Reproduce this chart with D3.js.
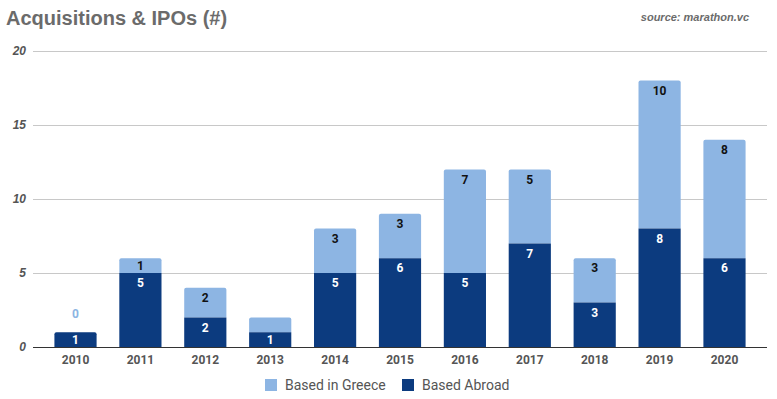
<!DOCTYPE html>
<html>
<head>
<meta charset="utf-8">
<script src="https://cdn.jsdelivr.net/npm/d3@7"></script>
<style>
body { margin: 0; background: #fff; }
svg { display: block; }
</style>
</head>
<body>
<svg id="chart" width="777" height="399"></svg>
<script>
// values
var years = ["2010","2011","2012","2013","2014","2015","2016","2017","2018","2019","2020"];
var basedAbroad = [1,5,2,1,5,6,5,7,3,8,6];
var basedGreece = [0,1,2,1,3,3,7,5,3,10,8];
var yTicks = [0,5,10,15,20];
var seriesNames = ["Based in Greece","Based Abroad"];
// the sheet didn't print this one (segment too thin)
var hiddenGreeceLabels = ["2013"];

var lightBlue = "#8db5e3", darkBlue = "#0c3b7f";

var svg = d3.select("#chart");

var x = d3.scaleBand()
	.domain(years)
	.range([33, 767])
	.paddingInner(0.35)
	.paddingOuter(0.33);

var y = d3.scaleLinear()
	.domain([0, 20])
	.range([347, 51]);

// title + source
svg.append("text")
	.attr("x", 6).attr("y", 25)
	.attr("font-family", "Liberation Sans, Arial, sans-serif")
	.attr("font-weight", "bold")
	.attr("font-size", "20px")
	.attr("fill", "#6b6b6b")
	.text("Acquisitions & IPOs (#)");

svg.append("text")
	.attr("x", 749).attr("y", 21)
	.attr("text-anchor", "end")
	.attr("font-family", "Liberation Sans, Arial, sans-serif")
	.attr("font-weight", "bold")
	.attr("font-style", "italic")
	.attr("font-size", "11px")
	.attr("fill", "#6b6b6b")
	.text("source: marathon.vc");

// gridlines
svg.append("g")
	.selectAll("line")
	.data(yTicks.filter(function(d) {return d > 0;}))
	.enter().append("line")
	.attr("x1", 33).attr("x2", 767)
	.attr("y1", function(d) {return y(d) + 0.5;})
	.attr("y2", function(d) {return y(d) + 0.5;})
	.attr("stroke", "#c8c8c8")
	.attr("stroke-width", 1);

// y axis labels
var yax = svg.append("g")
	.attr("transform", "translate(26,0)")
	.call(d3.axisLeft(y).tickValues(yTicks).tickSize(0).tickPadding(0));
yax.select(".domain").remove();
yax.selectAll("text")
	.attr("font-family", "Liberation Sans, Arial, sans-serif")
	.attr("font-weight", "bold")
	.attr("font-style", "italic")
	.attr("font-size", "12px")
	.attr("fill", "#555");

// stacked bars: abroad at the bottom, greece on top
function roundedTop(x0, y0, w, h, r) {
	if (h <= 0) return "";
	r = Math.min(r, h);
	return "M" + x0 + "," + (y0 + h) +
		"V" + (y0 + r) + "Q" + x0 + "," + y0 + " " + (x0 + r) + "," + y0 +
		"H" + (x0 + w - r) + "Q" + (x0 + w) + "," + y0 + " " + (x0 + w) + "," + (y0 + r) +
		"V" + (y0 + h) + "Z";
}

var bars = svg.append("g");
years.forEach(function(yr, i) {
	var a = basedAbroad[i], g = basedGreece[i];
	var bx = x(yr), bw = x.bandwidth();
	bars.append("path")
		.attr("d", roundedTop(bx, y(a + g), bw, y(a) - y(a + g), 2))
		.attr("fill", lightBlue);
	bars.append("path")
		.attr("d", roundedTop(bx, y(a), bw, y(0) - y(a), g > 0 ? 0 : 2))
		.attr("fill", darkBlue);
});

// value labels
var labels = svg.append("g")
	.attr("font-family", "Roboto, Arial, sans-serif")
	.attr("font-weight", "bold")
	.attr("font-size", "12px")
	.attr("text-anchor", "middle");

years.forEach(function(yr, i) {
	var a = basedAbroad[i], g = basedGreece[i];
	var cx = x(yr) + x.bandwidth() / 2;
	var hA = y(0) - y(a);
	labels.append("text")
		.attr("x", cx)
		.attr("y", y(a) + Math.min(10, hA / 2))
		.attr("dy", "0.35em")
		.attr("fill", "#fff")
		.text(a);
	if (hiddenGreeceLabels.indexOf(yr) >= 0) return;
	var gy;
	if (g > 0) {
		var hG = y(a) - y(a + g);
		gy = y(a + g) + Math.min(10, hG / 2);
	}
	else {
		gy = y(a) - 18;
	}
	labels.append("text")
		.attr("x", cx)
		.attr("y", gy)
		.attr("dy", "0.35em")
		.attr("fill", g > 0 ? "#111" : lightBlue)
		.text(g);
});

// baseline
svg.append("line")
	.attr("x1", 33).attr("x2", 767)
	.attr("y1", y(0) + 0.5).attr("y2", y(0) + 0.5)
	.attr("stroke", "#333")
	.attr("stroke-width", 1);

// x axis labels
var xax = svg.append("g")
	.attr("transform", "translate(0," + (y(0) + 6) + ")")
	.call(d3.axisBottom(x).tickSize(0).tickPadding(0));
xax.select(".domain").remove();
xax.selectAll("text")
	.attr("dy", "0.95em")
	.attr("font-family", "Roboto, Arial, sans-serif")
	.attr("font-weight", "bold")
	.attr("font-size", "12px")
	.attr("fill", "#555");

// legend
var legend = svg.append("g").attr("transform", "translate(265,385)");
var legendColors = [lightBlue, darkBlue];
var legendX = [0, 137];
seriesNames.forEach(function(name, i) {
	var lg = legend.append("g").attr("transform", "translate(" + legendX[i] + ",0)");
	lg.append("rect")
		.attr("x", 0).attr("y", -6)
		.attr("width", 12).attr("height", 12)
		.attr("fill", legendColors[i]);
	lg.append("text")
		.attr("x", 20).attr("y", 0)
		.attr("dy", "0.35em")
		.attr("font-family", "Roboto, Arial, sans-serif")
		.attr("font-size", "14px")
		.attr("fill", "#555")
		.text(name);
});
</script>
</body>
</html>
